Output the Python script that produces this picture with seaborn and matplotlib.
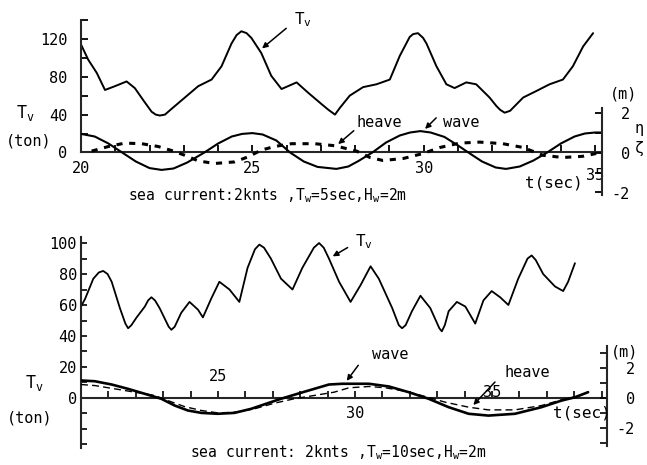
import matplotlib
matplotlib.use("Agg")
import matplotlib.pyplot as plt
import seaborn as sns
import numpy as np

# ---------------- data ----------------
# Top panel: sea current 2 knts, Tw = 5 s
tv1_t = [20.0, 20.21, 20.46, 20.70, 20.99, 21.33, 21.57, 21.86, 22.06, 22.18, 22.30, 22.45,
         22.64, 23.03, 23.42, 23.81, 24.10, 24.39, 24.54, 24.68, 24.83, 24.97, 25.26, 25.55,
         25.85, 26.29, 26.63, 27.02, 27.22, 27.41, 27.55, 27.84, 28.23, 28.62, 29.01, 29.30,
         29.59, 29.69, 29.83, 29.98, 30.08, 30.37, 30.66, 30.90, 31.24, 31.53, 31.92, 32.12,
         32.23, 32.36, 32.52, 32.60, 32.90, 33.29, 33.67, 34.06, 34.35, 34.65, 34.94]
tv1_v = [114, 98, 84, 66, 70, 75, 68, 53, 43, 40, 39, 40,
         46, 58, 70, 77, 91, 115, 124, 128, 126, 121, 105, 81,
         67, 74, 63, 51, 45, 40, 47, 60, 69, 72, 77, 102,
         122, 125, 126, 121, 115, 91, 72, 68, 74, 72, 58, 49,
         45, 42, 44, 47, 58, 65, 72, 77, 91, 112, 126]

wave1_t = [20.0, 20.4, 20.8, 21.2, 21.6, 22.0, 22.35, 22.7, 23.1, 23.6, 24.0, 24.4, 24.7,
           25.0, 25.3, 25.7, 26.1, 26.5, 26.9, 27.45, 27.8, 28.1, 28.5, 28.9, 29.3, 29.6,
           29.9, 30.2, 30.6, 31.0, 31.3, 31.7, 32.1, 32.4, 32.8, 33.2, 33.6, 34.0, 34.4,
           34.7, 35.0, 35.2]
wave1_m = [0.93, 0.8, 0.45, 0.0, -0.45, -0.78, -0.87, -0.8, -0.5, 0.0, 0.45, 0.8, 0.93,
           0.97, 0.9, 0.6, 0.0, -0.45, -0.72, -0.82, -0.7, -0.42, 0.0, 0.5, 0.85, 1.0,
           1.07, 1.0, 0.78, 0.35, 0.0, -0.45, -0.75, -0.82, -0.7, -0.4, 0.0, 0.45, 0.8,
           0.95, 1.0, 1.0]

heave1_t = [20.31, 20.8, 21.28, 21.77, 22.25, 22.64, 23.03, 23.42, 23.9, 24.48, 24.87, 25.26,
            25.65, 26.14, 26.82, 27.4, 28.04, 28.43, 28.81, 29.4, 29.98, 30.47, 31.05,
            31.63, 32.31, 32.9, 33.48, 34.06, 34.64, 35.03]
heave1_m = [0.07, 0.3, 0.47, 0.44, 0.3, 0.1, -0.14, -0.42, -0.55, -0.47, -0.22, 0.12,
            0.3, 0.44, 0.44, 0.34, 0.07, -0.25, -0.4, -0.3, -0.05, 0.25, 0.47,
            0.52, 0.44, 0.25, -0.14, -0.25, -0.19, -0.05]

# Bottom panel: sea current 2 knts, Tw = 10 s
tv2_t = [20.0, 20.15, 20.45, 20.65, 20.81, 20.97, 21.12, 21.42, 21.62, 21.72, 21.84, 22.03,
         22.33, 22.45, 22.57, 22.70, 22.87, 23.20, 23.30, 23.42, 23.66, 23.96, 24.27, 24.45,
         24.75, 25.05, 25.42, 25.78, 26.08, 26.35, 26.51, 26.68, 26.93, 27.30, 27.72, 28.08,
         28.50, 28.69, 28.86, 29.05, 29.42, 29.84, 30.21, 30.57, 30.87, 31.36, 31.60, 31.72,
         31.85, 32.08, 32.39, 32.75, 33.08, 33.17, 33.28, 33.42, 33.72, 34.03, 34.39, 34.69,
         34.99, 35.30, 35.60, 35.96, 36.30, 36.45, 36.60, 36.87, 37.30, 37.60, 37.78, 38.03]
tv2_v = [59, 64, 77, 81, 82, 80, 75, 58, 48, 45, 47, 52,
         59, 63, 65, 63, 58, 46, 44, 46, 55, 62, 57, 52,
         64, 75, 70, 62, 84, 96, 99, 97, 90, 77, 70, 84,
         97, 100, 97, 90, 75, 62, 73, 85, 77, 58, 47, 45,
         47, 56, 66, 58, 45, 43, 47, 56, 62, 59, 48, 63,
         69, 65, 60, 77, 90, 92, 89, 80, 72, 69, 75, 87]

wave2_t = [20.0, 20.5, 21.12, 21.72, 22.33, 22.93, 23.42, 23.9, 24.39, 24.99, 25.6, 26.21,
           26.81, 27.3, 27.9, 28.51, 29.05, 29.54, 30.51, 31.24, 31.96, 32.69, 33.42, 34.15,
           34.87, 35.84, 36.81, 37.54, 38.03, 38.51]
wave2_m = [1.17, 1.12, 0.9, 0.61, 0.28, -0.05, -0.5, -0.83, -0.99, -1.05, -0.99, -0.72,
           -0.35, -0.05, 0.28, 0.61, 0.9, 0.95, 0.95, 0.77, 0.39, -0.05, -0.61, -1.05,
           -1.17, -1.05, -0.61, -0.17, 0.05, 0.39]

heave2_t = [20.0, 20.51, 21.24, 21.96, 22.69, 23.17, 23.78, 24.39, 24.99, 25.6, 26.33, 27.05,
            27.78, 28.51, 29.24, 29.78, 30.51, 31.12, 31.84, 32.57, 33.3, 34.15, 34.87, 35.84,
            36.81, 37.54, 38.27]
heave2_m = [0.9, 0.83, 0.61, 0.39, 0.17, -0.17, -0.57, -0.83, -0.99, -0.95, -0.72, -0.35,
            -0.05, 0.17, 0.39, 0.68, 0.77, 0.68, 0.45, 0.1, -0.28, -0.61, -0.79, -0.79,
            -0.5, -0.12, 0.17]

# tick labels
top_yticks = [0, 20, 40, 60, 80, 100, 120, 140]
top_ylabels = ["0", "", "40", "", "80", "", "120", ""]
top_xticks = [20, 25, 30, 35]
top_xlabels = ["20", "25", "30", "35"]
m_ticks_top = [-2, -1, 0, 1, 2]
m_labels_top = ["-2", "", "0", "", "2"]

bot_yticks = [-30, -20, -10, 0, 10, 20, 30, 40, 50, 60, 70, 80, 90, 100]
bot_ylabels = ["", "", "", "0", "", "20", "", "40", "", "60", "", "80", "", "100"]
bot_xticks = [25, 30, 35]
bot_xlabels = ["25", "30", "35"]
m_ticks_bot = [-3, -2, -1, 0, 1, 2, 3]
m_labels_bot = ["", "-2", "", "0", "", "2", ""]

caption_top = r"sea current:2knts ,T$_\mathregular{w}$=5sec,H$_\mathregular{w}$=2m"
caption_bot = r"sea current: 2knts ,T$_\mathregular{w}$=10sec,H$_\mathregular{w}$=2m"
TV = r"T$_\mathregular{v}$"

# ---------------- style ----------------
sns.set_theme(style="ticks")
plt.rcParams["font.family"] = ["DejaVu Sans Mono", "DejaVu Sans"]
plt.rcParams["axes.linewidth"] = 1.5
plt.rcParams["text.color"] = "black"
plt.rcParams["xtick.color"] = "black"
plt.rcParams["ytick.color"] = "black"

W, H = 647, 465
fig = plt.figure(figsize=(W / 100, H / 100), dpi=100)
fig.patch.set_facecolor("white")


def fx(x):
    return x / W


def fy(y):
    return 1 - y / H


FS = 10.5
K = "black"
ARROW = dict(arrowstyle="-|>", lw=1.1, color=K, mutation_scale=8)

# ================= TOP PANEL =================
ax1 = fig.add_axes([fx(81), fy(193), (602 - 81) / W, (193 - 18) / H])
ax1.set_facecolor("none")
ax1.set_xlim(20, 35.2)
ax1.set_ylim(-42.8, 142)
tw1 = ax1.twinx()
tw1.set_ylim(-2.025, 6.725)

sns.lineplot(x=tv1_t, y=tv1_v, ax=ax1, color=K, lw=1.4, sort=False, estimator=None)
sns.lineplot(x=wave1_t, y=wave1_m, ax=tw1, color=K, lw=1.5, sort=False, estimator=None)
sns.lineplot(x=heave1_t, y=heave1_m, ax=tw1, color=K, lw=2.2, sort=False, estimator=None,
             linestyle=(0, (2.0, 2.2)))

for s in ["top", "right"]:
    ax1.spines[s].set_visible(False)
ax1.spines["left"].set_bounds(0, 140)
ax1.spines["bottom"].set_position(("data", 0))
for s in ["top", "left", "bottom"]:
    tw1.spines[s].set_visible(False)
tw1.spines["right"].set_bounds(-2.15, 2.25)

ax1.set_yticks(top_yticks)
ax1.set_yticklabels(top_ylabels)
ax1.tick_params(axis="y", direction="in", length=5, width=1.3, pad=10, labelsize=FS + 0.5)
ax1.set_xticks(top_xticks)
ax1.set_xticklabels(top_xlabels)
ax1.set_xticks(np.arange(20, 36, 1), minor=True)
ax1.tick_params(axis="x", which="both", direction="in", length=5, width=1.3, pad=6,
                labelsize=FS + 0.5)
ax1.xaxis.get_major_ticks()[3].set_pad(11)
tw1.set_yticks(m_ticks_top)
tw1.set_yticklabels(m_labels_top)
tw1.tick_params(axis="y", direction="in", length=5, width=1.3, pad=20, labelsize=FS + 0.5)
for lbl in tw1.get_yticklabels():
    lbl.set_ha("right")
ax1.set_xlabel("")
ax1.set_ylabel("")
tw1.set_ylabel("")

# annotations (top)
ax1.text(26.22, 140, TV, fontsize=FS + 1, ha="left", va="center")
ax1.annotate("", xy=(25.22, 108), xytext=(26.05, 133), arrowprops=ARROW)
tw1.text(28.05, 1.52, "heave", fontsize=FS + 0.5, ha="left", va="center")
tw1.annotate("", xy=(27.44, 0.33), xytext=(28.02, 1.18), arrowprops=ARROW)
tw1.text(30.56, 1.52, "wave", fontsize=FS + 0.5, ha="left", va="center")
tw1.annotate("", xy=(29.98, 1.08), xytext=(30.42, 1.83), arrowprops=ARROW)

fig.text(fx(25), fy(113), TV, fontsize=FS + 1.5, ha="center", va="center")
fig.text(fx(29), fy(141), "(ton)", fontsize=FS + 0.5, ha="center", va="center")
fig.text(fx(624), fy(94), "(m)", fontsize=FS + 0.5, ha="center", va="center")
fig.text(fx(639), fy(129), "\u03b7", fontsize=FS + 0.5, ha="center", va="center")
fig.text(fx(639), fy(148), "\u03b6", fontsize=FS + 0.5, ha="center", va="center")
fig.text(fx(525), fy(183), "t(sec)", fontsize=FS + 1, ha="left", va="center")
fig.text(fx(128), fy(196), caption_top, fontsize=FS, ha="left", va="center")

# ================= BOTTOM PANEL =================
ax2 = fig.add_axes([fx(81), fy(448), (607 - 81) / W, (448 - 237) / H])
ax2.set_facecolor("none")
ax2.set_xlim(20, 39.2)
ax2.set_ylim(-32.3, 103.9)
tw2 = ax2.twinx()
tw2.set_ylim(-3.33, 10.73)

sns.lineplot(x=tv2_t, y=tv2_v, ax=ax2, color=K, lw=1.3, sort=False, estimator=None)
sns.lineplot(x=wave2_t, y=wave2_m, ax=tw2, color=K, lw=1.9, sort=False, estimator=None)
sns.lineplot(x=heave2_t, y=heave2_m, ax=tw2, color=K, lw=1.0, sort=False, estimator=None,
             linestyle=(0, (5, 3)))

for s in ["top", "right"]:
    ax2.spines[s].set_visible(False)
ax2.spines["bottom"].set_position(("data", 0))
for s in ["top", "left", "bottom"]:
    tw2.spines[s].set_visible(False)
tw2.spines["right"].set_bounds(-3.2, 3.5)

ax2.set_yticks(bot_yticks)
ax2.set_yticklabels(bot_ylabels)
ax2.tick_params(axis="y", direction="in", length=4, width=1.2, pad=3, labelsize=FS + 0.5)
ax2.set_xticks(bot_xticks)
ax2.set_xticklabels(bot_xlabels)
ax2.set_xticks(np.arange(20, 40, 1), minor=True)
ax2.tick_params(axis="x", which="both", direction="in", length=5, width=1.2, pad=6,
                labelsize=FS + 0.5)
xt = ax2.xaxis.get_major_ticks()
xt[0].set_pad(-21)
xt[2].set_pad(-9)
tw2.set_yticks(m_ticks_bot)
tw2.set_yticklabels(m_labels_bot)
tw2.tick_params(axis="y", direction="in", length=5, width=1.2, pad=20, labelsize=FS + 0.5)
for lbl in tw2.get_yticklabels():
    lbl.set_ha("right")
ax2.set_xlabel("")
ax2.set_ylabel("")
tw2.set_ylabel("")

ax2.text(30.0, 100.6, TV, fontsize=FS + 1, ha="left", va="center")
ax2.annotate("", xy=(29.1, 90.5), xytext=(29.82, 98), arrowprops=ARROW)
tw2.text(30.62, 2.93, "wave", fontsize=FS + 0.5, ha="left", va="center")
tw2.annotate("", xy=(29.64, 1.0), xytext=(30.18, 2.33), arrowprops=ARROW)
tw2.text(35.47, 1.67, "heave", fontsize=FS + 0.5, ha="left", va="center")
tw2.annotate("", xy=(34.25, -0.6), xytext=(35.18, 1.2), arrowprops=ARROW)

fig.text(fx(34), fy(383), TV, fontsize=FS + 1.5, ha="center", va="center")
fig.text(fx(30), fy(418), "(ton)", fontsize=FS + 0.5, ha="center", va="center")
fig.text(fx(625), fy(352), "(m)", fontsize=FS + 0.5, ha="center", va="center")
fig.text(fx(553), fy(413), "t(sec)", fontsize=FS + 1, ha="left", va="center")
fig.text(fx(190), fy(453), caption_bot, fontsize=FS, ha="left", va="center")

fig.savefig("out.png", dpi=100, facecolor="white")
